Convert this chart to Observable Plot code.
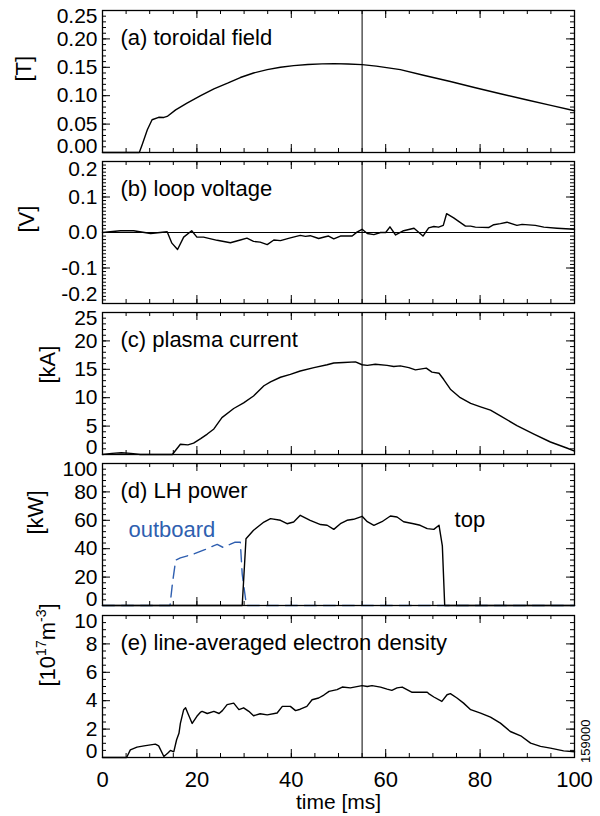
<!DOCTYPE html>
<html><head><meta charset="utf-8">
<script src="https://cdn.jsdelivr.net/npm/d3@7"></script>
<script src="https://cdn.jsdelivr.net/npm/@observablehq/plot@0.6"></script>
<style>
body{margin:0;background:#fff;}
#chart{position:relative;width:600px;height:816px;overflow:hidden;}
#chart svg{position:absolute;left:0;}
</style></head><body><div id="chart"></div>
<script>
// ---------- data ----------
const xMajor = [0, 20, 40, 60, 80, 100];
const xMinor = [0, 5, 10, 15, 20, 25, 30, 35, 40, 45, 50, 55, 60, 65, 70, 75, 80, 85, 90, 95, 100];
const xLabels = ["0", "20", "40", "60", "80", "100"];
const markerTime = 55;
const shotNumber = "159000";

// (a) toroidal field [T]
const tA = [0, 4, 7.8, 8.4, 9.5, 10.5, 11.9, 13.0, 13.7, 15.5, 17.9, 20.8, 23.6, 26.5, 29.2, 32, 34.9, 37.7, 40.5, 43.5, 46.5, 49, 52, 55, 58, 63.1, 68, 73.7, 79, 84.3, 90, 95, 100];
const bA = [0, 0, 0, 0.0135, 0.040, 0.0577, 0.062, 0.0617, 0.0635, 0.075, 0.087, 0.100, 0.112, 0.122, 0.132, 0.140, 0.146, 0.150, 0.153, 0.155, 0.156, 0.1564, 0.1558, 0.1547, 0.152, 0.146, 0.136, 0.125, 0.114, 0.1035, 0.0925, 0.083, 0.0735];
const ticksA = [0, 0.05, 0.10, 0.15, 0.20, 0.25];
const labelsA = ["0.00", "0.05", "0.10", "0.15", "0.20", "0.25"];

// (b) loop voltage [V]
const tB = [0, 3.8, 6.6, 10.2, 13.7, 14.7, 15.9, 17.2, 18.9, 20, 21.4, 24.3, 27.1, 29.2, 30.6, 32, 33.4, 34.9, 36.3, 37.7, 39.8, 41.9, 43, 44, 45.8, 47.2, 47.9, 49, 50.4, 52.9, 53.9, 55, 56.1, 57.5, 58.9, 60, 60.9, 62.1, 63.8, 66, 67.9, 69.1, 70.2, 71.2, 72.2, 72.9, 74.4, 76.9, 78, 79, 81.8, 82.9, 84.3, 85.7, 87.8, 88.9, 91.7, 93.5, 96.3, 100];
const vB = [0, 0.005, 0.005, -0.003, 0.002, -0.03, -0.048, -0.013, 0.005, -0.013, -0.013, -0.022, -0.029, -0.021, -0.016, -0.025, -0.027, -0.034, -0.021, -0.023, -0.015, -0.008, -0.011, -0.009, -0.017, -0.012, -0.010, -0.018, -0.010, -0.010, 0.001, 0.009, -0.003, -0.006, 0.000, 0.000, 0.016, -0.007, 0.005, 0.012, -0.010, 0.013, 0.017, 0.015, 0.020, 0.053, 0.041, 0.018, 0.018, 0.015, 0.014, 0.022, 0.025, 0.029, 0.020, 0.023, 0.020, 0.015, 0.012, 0.009];
const ticksB = [-0.2, -0.1, 0, 0.1, 0.2];
const labelsB = ["-0.2", "-0.1", "0.0", "0.1", "0.2"];

// (c) plasma current [kA]
const tC = [0, 2, 4, 6, 8, 14.8, 16.5, 18.1, 19.3, 20.8, 22.2, 23.6, 25.3, 27.8, 29.9, 32, 34.2, 35.6, 37.7, 39.8, 41.9, 44.8, 47.6, 49, 51.1, 53.6, 55, 56.1, 57.8, 60.3, 61.7, 63.1, 64.9, 66.3, 68.6, 69.8, 71.3, 72.3, 73.7, 75.8, 78, 80.1, 82.2, 84.3, 87.8, 91.4, 94.9, 98.5, 100];
const iC = [0, 0.2, 0.3, 0.2, 0, 0, 1.8, 1.7, 2.0, 2.8, 3.6, 4.5, 6.5, 8.1, 9.1, 10.3, 12.1, 12.8, 13.6, 14.1, 14.7, 15.3, 15.8, 16.1, 16.2, 16.3, 15.8, 15.7, 15.9, 15.7, 15.5, 15.6, 15.3, 14.9, 15.2, 14.5, 14.3, 13.2, 11.5, 10.0, 9.0, 8.4, 7.8, 6.8, 5.1, 3.6, 2.2, 1.1, 0.6];
const ticksC = [0, 5, 10, 15, 20, 25];
const labelsC = ["0", "5", "10", "15", "20", "25"];

// (d) LH power [kW]
const tTop = [0, 29.6, 30.4, 32, 34.2, 35.6, 37.7, 39.1, 40.5, 41.9, 44, 46.2, 47.6, 49, 50.4, 51.8, 53.2, 55, 56.1, 57.5, 59.2, 61, 62.4, 63.8, 65.9, 67.3, 68.8, 70.2, 71.3, 72, 72.5, 100];
const pTop = [0, 0, 47, 53, 58.8, 61.2, 60, 57.6, 58.8, 63.5, 60, 57, 56.5, 53.6, 57.6, 60, 60.7, 62.8, 59, 56.5, 59, 63, 62.3, 59, 57.6, 56.5, 54.1, 53.6, 56.5, 42, 0, 0];
const tOut = [0, 14.3, 14.8, 15.5, 16.5, 18, 19.5, 21, 22.2, 23.5, 24.3, 25.5, 27, 28, 29.2, 29.6, 30.5, 100];
const pOut = [0, 0, 15, 32, 33.5, 35, 36.5, 38.5, 40, 42, 43, 41, 43, 44.5, 44.5, 22, 0, 0];
const ticksD = [0, 20, 40, 60, 80, 100];
const labelsD = ["0", "20", "40", "60", "80", "100"];
const annText = ["outboard", "top"];
const annT = [5.5, 74.6];
const annP = [53, 60];
const annColor = ["#2f5fb0", "black"];

// (e) line-averaged electron density [1e17 m^-3]
const tE = [0, 5.1, 5.9, 7.3, 8.8, 11.2, 11.9, 13, 13.8, 14.4, 15.1, 15.7, 16.2, 16.5, 17.2, 17.6, 18.1, 19, 20, 20.8, 21.1, 22.2, 23.6, 24.7, 25.4, 26.4, 27.8, 28.9, 29.9, 31, 32, 33.4, 34.9, 37, 38.1, 39.8, 40.9, 41.9, 43.3, 44.4, 45.8, 46.9, 48, 49.7, 50.8, 52.5, 55, 56.1, 57.1, 58.9, 60.3, 61.3, 62.4, 63.5, 64.5, 65.6, 67.3, 68.8, 69.1, 70.2, 71.9, 73, 73.7, 75.1, 76.5, 78, 80.1, 82.2, 84.3, 86.4, 88.6, 90.7, 92.8, 94.9, 97.7, 100];
const nE = [0, 0, 0.54, 0.73, 0.82, 0.94, 0.82, 0.07, 0.3, 0.5, 0.4, 1.25, 1.7, 2.4, 3.37, 3.5, 3.1, 2.4, 2.9, 3.2, 3.25, 3.1, 3.25, 3.1, 3.3, 3.72, 3.83, 3.37, 3.5, 3.25, 2.94, 3.08, 3.0, 3.13, 3.6, 3.6, 3.3, 3.4, 3.6, 4.07, 4.19, 4.4, 4.66, 4.78, 4.96, 4.9, 5.06, 5.0, 5.06, 4.96, 4.82, 4.73, 4.9, 4.96, 4.78, 4.59, 4.59, 4.59, 4.5, 4.26, 3.95, 4.42, 4.5, 4.19, 3.83, 3.37, 3.13, 2.85, 2.42, 1.83, 1.53, 1.01, 0.78, 0.66, 0.47, 0.4];
const ticksE = [0, 2, 4, 6, 8, 10];
const labelsE = ["0", "2", "4", "6", "8", "10"];

const titles = ["(a) toroidal field", "(b) loop voltage", "(c) plasma current", "(d) LH power", "(e) line-averaged electron density"];
const units = ["[T]", "[V]", "[kA]", "[kW]", "[1017m-3]"];

// ---------- layout ----------
const FONT = "'Liberation Sans', Arial, Helvetica, sans-serif";
const W = 600, ML = 102, MR = 26, FH = 142, PITCH = 151.25, TOP0 = 9.5;
const FW = W - ML - MR;
const MAJ = 8, MIN = 4;
const unitX = [23, 26, 47, 35, 47];

const panels = [
  {domain: [0, 0.25], ticks: ticksA, labels: labelsA, minor: d3.range(0, 0.2501, 0.01), ends: [6, -6],
   series: [{t: tA, v: bA}]},
  {domain: [-0.2, 0.2], ticks: ticksB, labels: labelsB, minor: d3.range(-0.2, 0.2001, 0.01), zero: true, ends: [8, -9],
   series: [{t: tB, v: vB}]},
  {domain: [0, 25], ticks: ticksC, labels: labelsC, minor: d3.range(0, 25.01, 1), ends: [6, -7],
   series: [{t: tC, v: iC}]},
  {domain: [0, 100], ticks: ticksD, labels: labelsD, minor: d3.range(0, 100.1, 4), ends: [6, -6],
   series: [{t: tOut, v: pOut, color: "#2f5fb0", dash: "12,7"}, {t: tTop, v: pTop}], ann: true},
  {domain: [0, 10], ticks: ticksE, labels: labelsE, minor: d3.range(0, 10.01, 0.5), ends: [6, -6],
   series: [{t: tE, v: nE}], last: true}
];

const chart = document.getElementById("chart");

panels.forEach((p, i) => {
  const mT = 6, mB = p.last ? 60 : 6;
  const lab = new Map(p.ticks.map((v, k) => [v, p.labels[k]]));
  const fmt = d => lab.get(d);
  const inner = p.ticks.slice(1, -1);
  const marks = [];
  if (p.zero) marks.push(Plot.ruleY([0], {stroke: "black", strokeWidth: 1}));
  marks.push(Plot.ruleX([markerTime], {stroke: "black", strokeWidth: 1}));
  for (const s of p.series) {
    marks.push(Plot.line(s.t, {x: s.t, y: s.v, stroke: s.color || "black", strokeWidth: 1.4,
      strokeDasharray: s.dash}));
  }
  // inward ticks (IDL style): x on top and bottom, y on left and right
  const tk = {stroke: "black", strokeWidth: 1};
  marks.push(Plot.tickX(xMinor, {...tk, x: d => d, insetBottom: FH - MIN}));
  marks.push(Plot.tickX(xMajor, {...tk, x: d => d, insetBottom: FH - MAJ}));
  marks.push(Plot.tickX(xMinor, {...tk, x: d => d, insetTop: FH - MIN}));
  marks.push(Plot.tickX(xMajor, {...tk, x: d => d, insetTop: FH - MAJ}));
  marks.push(Plot.tickY(p.minor, {...tk, y: d => d, insetRight: FW - MIN}));
  marks.push(Plot.tickY(p.ticks, {...tk, y: d => d, insetRight: FW - MAJ}));
  marks.push(Plot.tickY(p.minor, {...tk, y: d => d, insetLeft: FW - MIN}));
  marks.push(Plot.tickY(p.ticks, {...tk, y: d => d, insetLeft: FW - MAJ}));
  marks.push(Plot.frame({stroke: "black", strokeWidth: 1.3}));
  // y tick labels (end labels nudged inward as in the original)
  const yl = {anchor: "left", tickSize: 0, tickPadding: 5, tickFormat: fmt, fontSize: 21, label: null};
  marks.push(Plot.axisY({...yl, ticks: inner}));
  marks.push(Plot.axisY({...yl, ticks: [p.ticks[p.ticks.length - 1]], dy: p.ends[0]}));
  marks.push(Plot.axisY({...yl, ticks: [p.ticks[0]], dy: p.ends[1]}));
  // title
  marks.push(Plot.text([titles[i]], {text: d => d, frameAnchor: "top-left", textAnchor: "start",
    lineAnchor: "middle", dx: 18, dy: 27, fontSize: 22}));
  // unit label
  marks.push(Plot.text([units[i]], {text: d => d, frameAnchor: "left", rotate: -90,
    lineAnchor: "middle", dx: unitX[i] - ML, fontSize: 22}));
  if (p.ann) {
    marks.push(Plot.text(annText, {x: annT, y: annP, text: annText, fill: annColor,
      textAnchor: "start", lineAnchor: "middle", fontSize: 22}));
  }
  if (p.last) {
    marks.push(Plot.axisX({anchor: "bottom", ticks: xMajor, tickSize: 0, tickPadding: 14, fontSize: 22,
      tickFormat: d => xLabels[xMajor.indexOf(d)], label: null}));
    marks.push(Plot.text(["time [ms]"], {text: d => d, frameAnchor: "bottom", lineAnchor: "middle",
      dy: 45, fontSize: 21}));
    marks.push(Plot.text([shotNumber], {text: d => d, frameAnchor: "right", rotate: -90,
      lineAnchor: "middle", dx: 11, dy: 33, fontSize: 13}));
  }
  const svg = Plot.plot({
    width: W, height: FH + mT + mB,
    marginLeft: ML, marginRight: MR, marginTop: mT, marginBottom: mB,
    x: {domain: [0, 100], label: null, axis: null},
    y: {domain: p.domain, label: null, axis: null},
    style: {fontFamily: FONT, color: "black", background: "transparent", overflow: "visible"},
    marks
  });
  svg.style.top = (TOP0 + i * PITCH - mT) + "px";
  chart.appendChild(svg);
  // superscripts for the density unit
  if (p.last) {
    d3.select(svg).selectAll("text").filter(function () { return this.textContent === units[4]; })
      .each(function () {
        const t = d3.select(this).text(null);
        t.append("tspan").text("[10");
        t.append("tspan").attr("dy", -9).attr("font-size", 14).text("17");
        t.append("tspan").attr("dy", 9).text("m");
        t.append("tspan").attr("dy", -9).attr("font-size", 14).text("-3");
        t.append("tspan").attr("dy", 9).text("]");
      });
  }
});
</script>
</body></html>
